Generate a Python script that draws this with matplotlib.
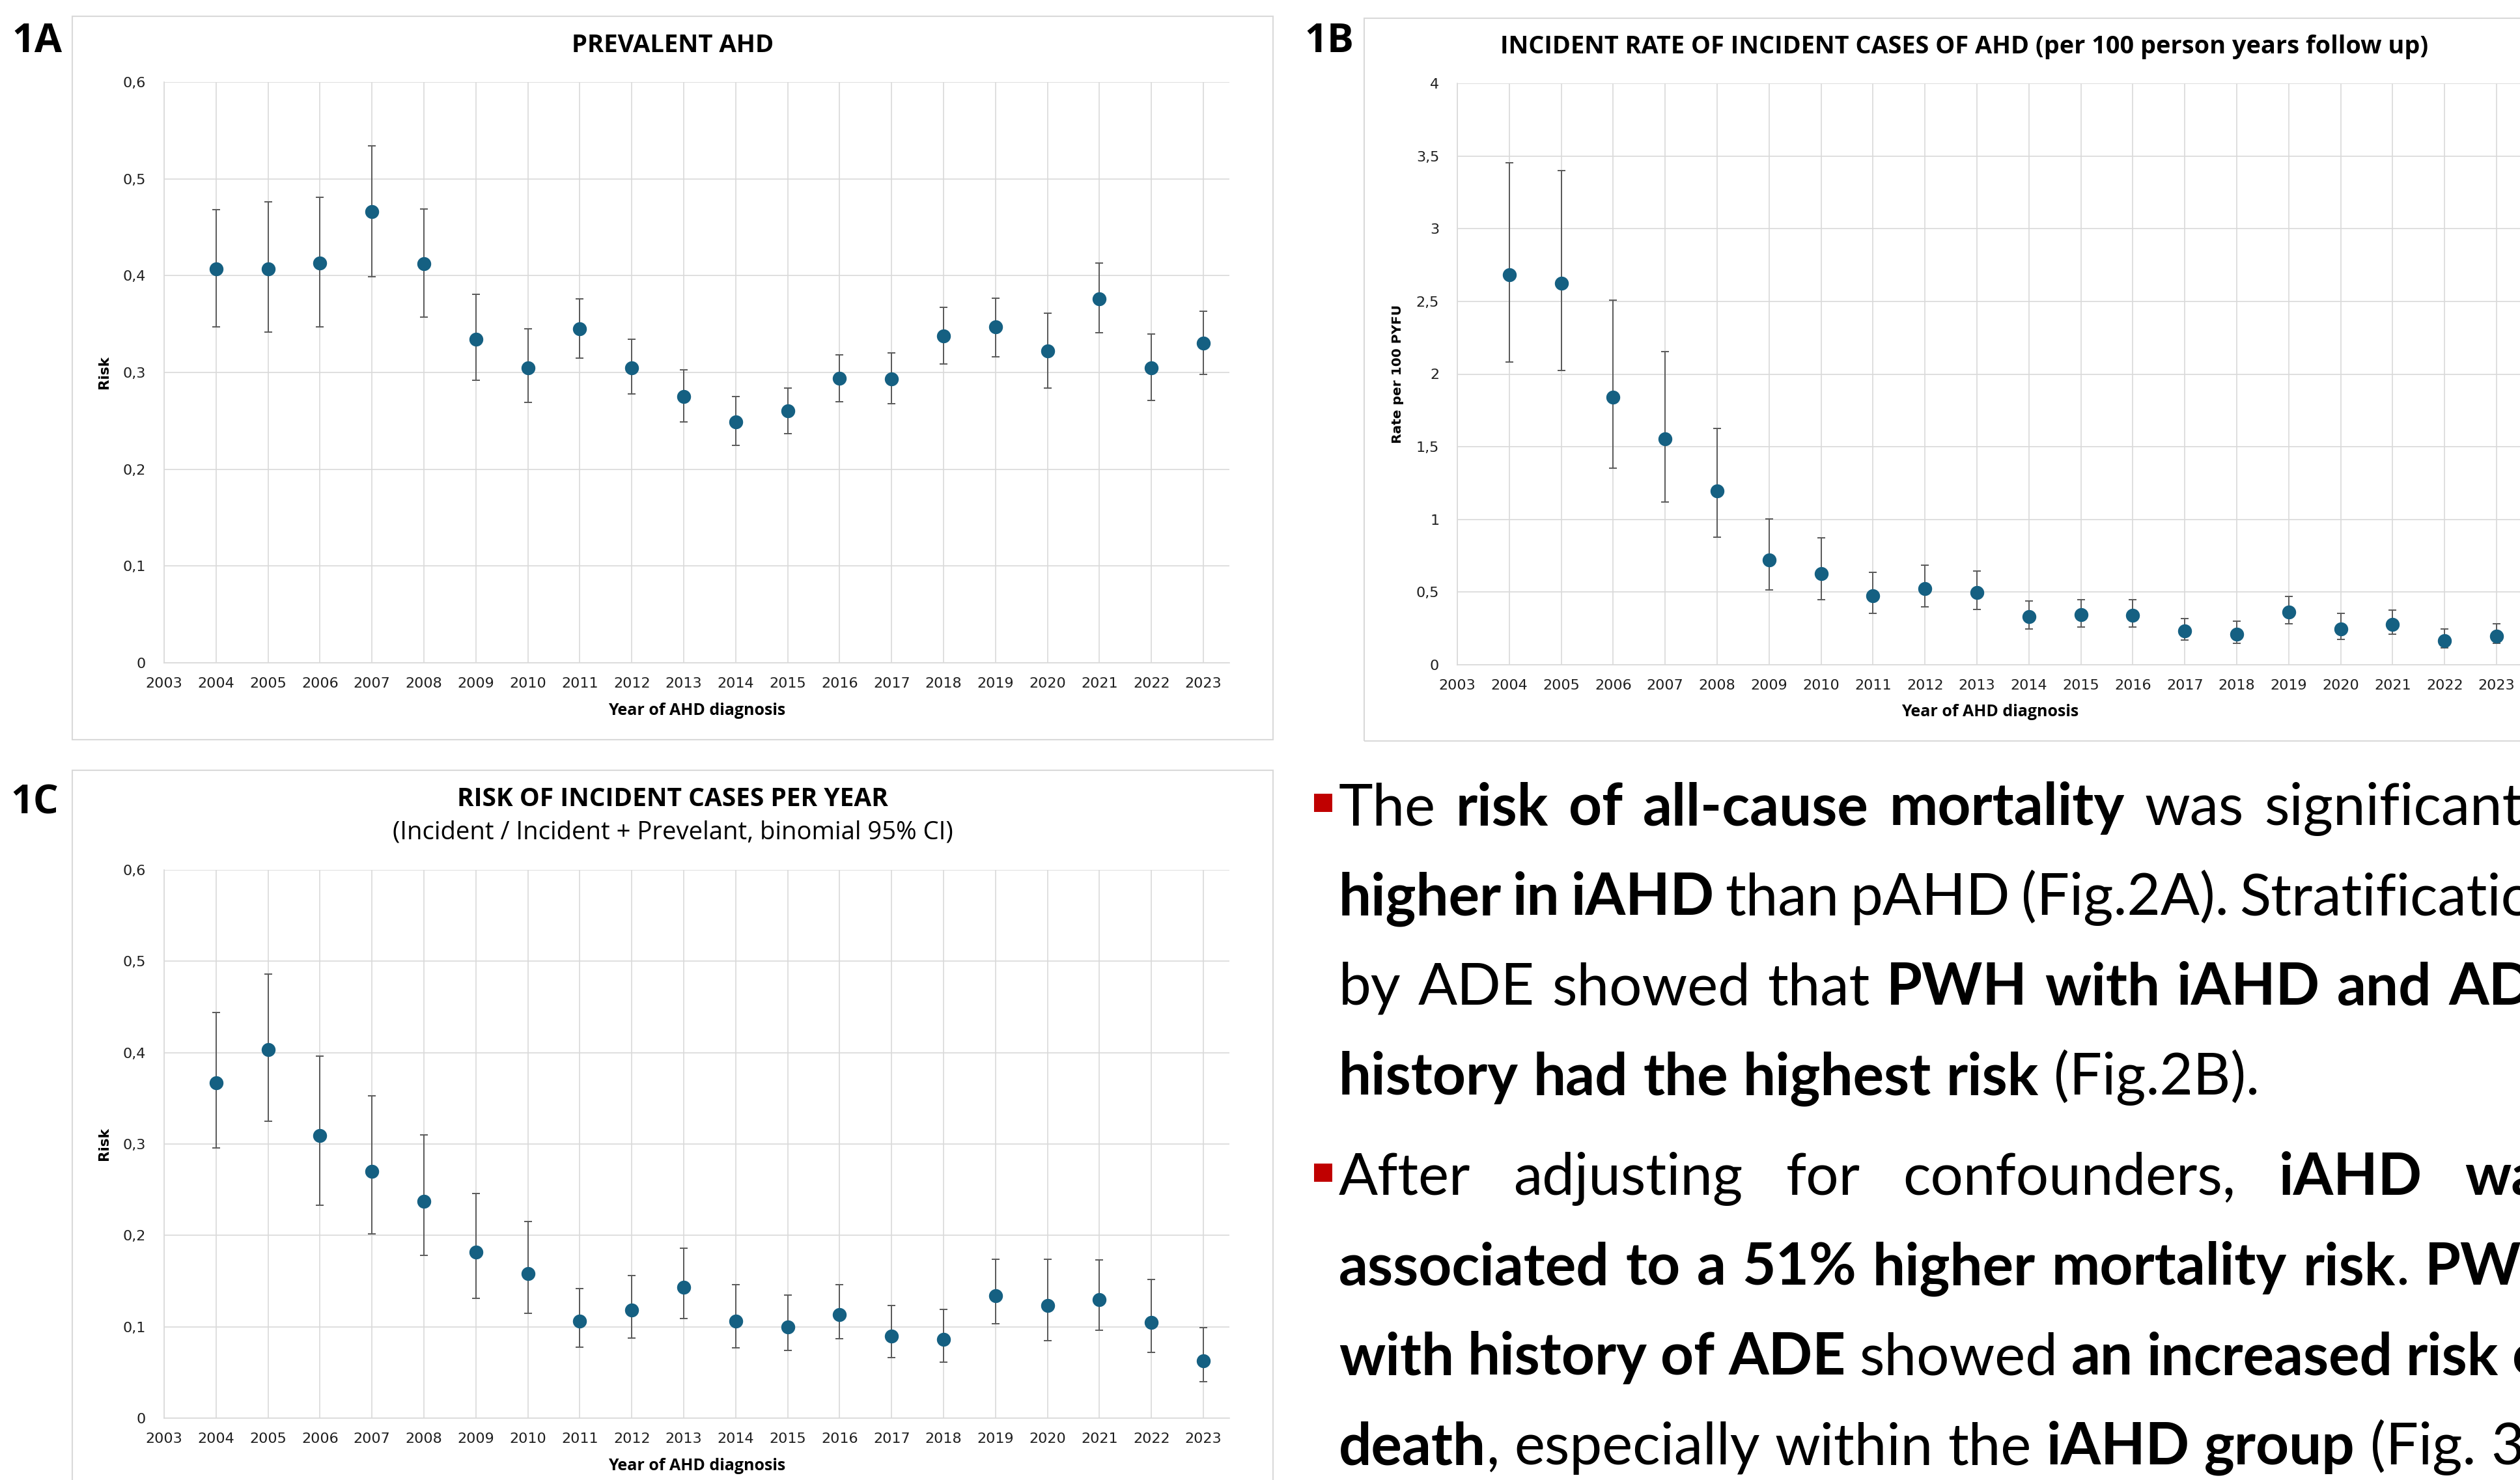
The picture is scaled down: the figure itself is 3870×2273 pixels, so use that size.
import numpy as np
import matplotlib
matplotlib.use('Agg')
import matplotlib.pyplot as plt
from matplotlib.patches import Rectangle
from matplotlib.transforms import IdentityTransform

# values (Excel export, comma decimals)
years = list(range(2004, 2024))

prev_risk = [0.407, 0.407, 0.413, 0.466, 0.412, 0.334, 0.305, 0.345, 0.305, 0.275,
             0.249, 0.260, 0.294, 0.293, 0.338, 0.347, 0.322, 0.376, 0.305, 0.330]
prev_lo = [0.347, 0.342, 0.347, 0.399, 0.357, 0.292, 0.269, 0.315, 0.278, 0.249,
           0.225, 0.237, 0.270, 0.268, 0.309, 0.316, 0.284, 0.341, 0.271, 0.298]
prev_hi = [0.468, 0.476, 0.481, 0.534, 0.469, 0.381, 0.345, 0.376, 0.334, 0.303,
           0.275, 0.284, 0.318, 0.320, 0.367, 0.377, 0.361, 0.413, 0.340, 0.363]

rate = [2.685, 2.623, 1.840, 1.553, 1.194, 0.721, 0.626, 0.473, 0.522, 0.496,
        0.330, 0.346, 0.339, 0.232, 0.212, 0.365, 0.245, 0.277, 0.166, 0.199]
rate_lo = [2.085, 2.023, 1.351, 1.122, 0.878, 0.516, 0.447, 0.352, 0.398, 0.382,
           0.245, 0.258, 0.261, 0.170, 0.150, 0.281, 0.173, 0.209, 0.117, 0.147]
rate_hi = [3.455, 3.400, 2.509, 2.153, 1.628, 1.005, 0.874, 0.636, 0.685, 0.646,
           0.437, 0.447, 0.447, 0.316, 0.300, 0.470, 0.352, 0.378, 0.245, 0.281]

inc_risk = [0.367, 0.403, 0.309, 0.270, 0.237, 0.182, 0.158, 0.106, 0.118, 0.143,
            0.106, 0.100, 0.113, 0.090, 0.086, 0.134, 0.123, 0.130, 0.105, 0.063]
inc_lo = [0.296, 0.325, 0.233, 0.202, 0.178, 0.131, 0.115, 0.078, 0.088, 0.109,
          0.077, 0.074, 0.087, 0.066, 0.061, 0.103, 0.085, 0.096, 0.072, 0.040]
inc_hi = [0.444, 0.486, 0.396, 0.353, 0.310, 0.246, 0.215, 0.142, 0.156, 0.186,
          0.146, 0.135, 0.146, 0.123, 0.119, 0.174, 0.174, 0.173, 0.152, 0.099]

xtick_years = list(range(2003, 2024))

# bullet text, ** toggles bold
para1 = ["The **risk of all-cause mortality** was significantly",
         "**higher in iAHD** than pAHD (Fig.2A). Stratification",
         "by ADE showed that **PWH with iAHD and ADE**",
         "**history had the highest risk** (Fig.2B)."]
para2 = ["After adjusting for confounders, **iAHD was**",
         "**associated to a 51% higher mortality risk**. **PWH**",
         "**with history of ADE** showed **an increased risk of**",
         "**death**, especially within the **iAHD group** (Fig. 3)."]

W, H = 3870, 2273
DOT = '#156082'
ERR = '#595959'
GRID = '#D9D9D9'
TICK = '#1F1F1F'
HEAD = ['Open Sans', 'DejaVu Sans']
BODY = ['Lato', 'DejaVu Sans']

fig = plt.figure(figsize=(W / 100, H / 100), dpi=100)
ID = IdentityTransform()


def ptext(x, y, s, **kw):
    return fig.text(x, H - y, s, transform=ID, **kw)


def box(l, t, r, b):
    fig.add_artist(Rectangle((l, H - b), r - l, b - t, transform=ID,
                             fill=False, ec=GRID, lw=1.5))


def comma(v):
    return ('%g' % round(v, 2)).replace('.', ',')


def panel(rect, vals, lo, hi, ymax, ystep, ylabel, ylsize):
    l, t, r, b = rect
    ax = fig.add_axes([l / W, 1 - b / H, (r - l) / W, (b - t) / H])
    yerr = [np.subtract(vals, lo), np.subtract(hi, vals)]
    ax.errorbar(years, vals, yerr=yerr, fmt='none', ecolor=ERR, elinewidth=1.4,
                capsize=4.3, capthick=1.4, zorder=3)
    ax.plot(years, vals, 'o', color=DOT, ms=14.4, mec=DOT, zorder=4)
    ax.set_xlim(2003, 2023.5)
    ax.set_ylim(0, ymax)
    ax.set_xticks(xtick_years)
    ax.set_xticklabels([str(y) for y in xtick_years])
    yt = np.arange(0, ymax + ystep / 2, ystep)
    ax.set_yticks(yt)
    ax.set_yticklabels([comma(v) for v in yt])
    ax.grid(True, color=GRID, lw=1.2)
    ax.set_axisbelow(True)
    for s in ['top', 'right']:
        ax.spines[s].set_visible(False)
    for s in ['left', 'bottom']:
        ax.spines[s].set_color(GRID)
        ax.spines[s].set_linewidth(1.2)
    ax.tick_params(axis='both', length=0, labelsize=16, colors=TICK)
    ax.tick_params(axis='y', pad=20)
    ax.tick_params(axis='x', pad=16)
    ax.set_xlabel('Year of AHD diagnosis', family=HEAD, fontweight='bold', fontsize=18)
    ax.xaxis.set_label_coords(0.5, -73 / (b - t))
    ax.xaxis.label.set_va('center')
    ax.set_ylabel(ylabel, family='DejaVu Sans', fontweight='bold', fontsize=ylsize)
    ax.yaxis.set_label_coords(-92 / (r - l), 0.5)
    ax.yaxis.label.set_va('center')
    return ax


# 1A
box(111, 25, 1955, 1136)
panel((252, 126, 1888, 1018), prev_risk, prev_lo, prev_hi, 0.6, 0.1, 'Risk', 15.5)
ptext(1033, 70, 'PREVALENT AHD', family=HEAD, fontweight='bold', fontsize=27.5,
      ha='center', va='center')
ptext(57, 64, '1A', family=HEAD, fontweight='bold', fontsize=44, ha='center', va='center')

# 1B
box(2095, 28, 3939, 1138)
panel((2238, 128, 3874, 1021), rate, rate_lo, rate_hi, 4, 0.5, 'Rate per 100 PYFU', 14.5)
ptext(3017, 72, 'INCIDENT RATE OF INCIDENT CASES OF AHD (per 100 person years follow up)',
      family=HEAD, fontweight='bold', fontsize=27.3, ha='center', va='center')
ptext(2041, 64, '1B', family=HEAD, fontweight='bold', fontsize=44, ha='center', va='center')

# 1C
box(111, 1183, 1955, 2300)
panel((252, 1336, 1888, 2178), inc_risk, inc_lo, inc_hi, 0.6, 0.1, 'Risk', 15.5)
ptext(1033, 1228, 'RISK OF INCIDENT CASES PER YEAR', family=HEAD, fontweight='bold',
      fontsize=28, ha='center', va='center')
ptext(1033, 1279, '(Incident / Incident + Prevelant, binomial 95% CI)', family=HEAD,
      fontsize=27.5, ha='center', va='center')
ptext(53, 1234, '1C', family=HEAD, fontweight='bold', fontsize=44, ha='center', va='center')

# justified bullet paragraphs on the right
renderer = fig.canvas.get_renderer()
FS = 64


def parse(line):
    words, bold = [], False
    for w in line.split(' '):
        pieces = []
        for k, part in enumerate(w.split('**')):
            if k > 0:
                bold = not bold
            if part:
                pieces.append((part, bold))
        words.append(pieces)
    return words


def width(s, bold):
    t = ptext(0, 0, s, family=BODY, fontsize=FS, fontweight='bold' if bold else 'normal')
    w = t.get_window_extent(renderer).width
    t.remove()
    return w


space = width('n n', False) - width('nn', False)


def paragraph(lines, x0, x1, y0, step):
    fig.add_artist(Rectangle((x0 - 38, H - (y0 - 20)), 28, 28, transform=ID,
                             color='#C00000', lw=0))
    for i, line in enumerate(lines):
        words = parse(line)
        wlen = [sum(width(p, b) for p, b in w) for w in words]
        if i < len(lines) - 1 and len(words) > 1:
            gap = max((x1 - x0 - sum(wlen)) / (len(words) - 1), 0.6 * space)
        else:
            gap = space
        x = x0
        y = y0 + i * step
        for w, wl in zip(words, wlen):
            xx = x
            for p, b in w:
                ptext(xx, y, p, family=BODY, fontsize=FS,
                      fontweight='bold' if b else 'normal', va='baseline')
                xx += width(p, b)
            x += wl + gap


paragraph(para1, 2056, 3941, 1267, 138)
paragraph(para2, 2056, 3941, 1835, 138)

fig.savefig('out.png', dpi=100)
